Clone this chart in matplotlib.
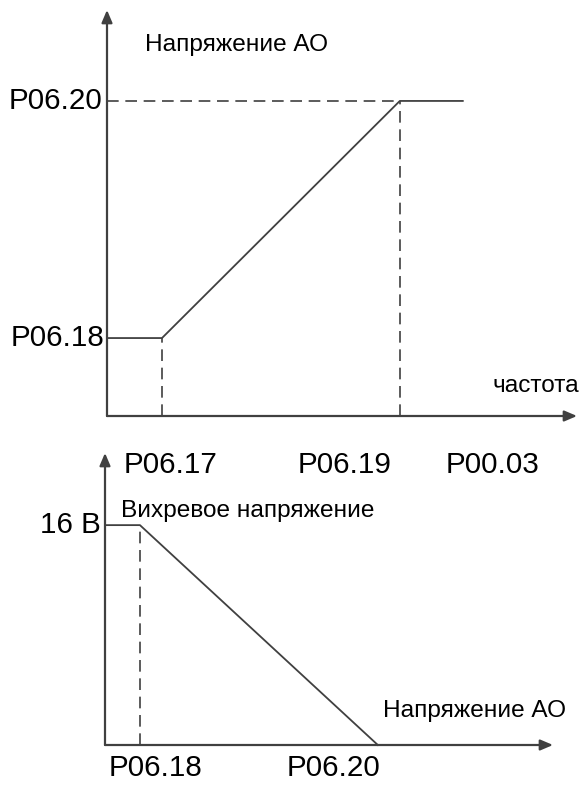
import matplotlib.pyplot as plt

plt.rcParams['font.family'] = ['Liberation Sans', 'DejaVu Sans']

LINE = '#404040'
TXT = '#000000'

# top chart: AO voltage vs frequency (schematic units, axis arrow tip = 10)
top_x = [0, 1.17, 6.23, 7.57]
top_y = [1.92, 1.92, 7.76, 7.76]
top_xticks = [1.35, 5.05, 8.2]
top_xlabels = ['P06.17', 'P06.19', 'P00.03']
top_ylabels = ['P06.18', 'P06.20']

# bottom chart: vortex voltage vs AO voltage
bot_x = [0, 0.78, 6.09]
bot_y = [7.53, 7.53, 0]
bot_xticks = [1.12, 5.09]
bot_xlabels = ['P06.18', 'P06.20']
bot_ylabel = '16 В'

W, H = 582, 785
fig = plt.figure(figsize=(5.82, 7.85), dpi=100)

TICK_FS = 21.3
LAB_FS = 17.6


def make_ax(x0, y0, xlen, ylen):
    # x0, y0 = origin in pixels from top-left, lengths to arrow tips
    ax = fig.add_axes([x0 / W, (H - y0) / H, xlen / W, ylen / H])
    ax.set_xlim(0, 10)
    ax.set_ylim(0, 10)
    ax.axis('off')
    arrow = dict(arrowstyle='-|>,head_length=0.75,head_width=0.32',
                 color=LINE, lw=1.6, shrinkA=0, shrinkB=0)
    ax.annotate('', xy=(10, 0), xytext=(0, 0), arrowprops=arrow,
                annotation_clip=False)
    ax.annotate('', xy=(0, 10), xytext=(0, 0), arrowprops=arrow,
                annotation_clip=False)
    return ax


# ---- top ----
ax1 = make_ax(107, 416, 470, 406)
ax1.plot(top_x, top_y, color=LINE, lw=1.3, clip_on=False)
ax1.plot([top_x[1], top_x[1]], [0, top_y[1]], color=LINE, lw=1.2,
         dashes=(7, 4), clip_on=False)
ax1.plot([top_x[2], top_x[2]], [0, top_y[2]], color=LINE, lw=1.2,
         dashes=(7, 4), clip_on=False)
ax1.plot([0, top_x[2]], [top_y[2], top_y[2]], color=LINE, lw=1.2,
         dashes=(7, 4), clip_on=False)
for xv, lab in zip(top_xticks, top_xlabels):
    ax1.text(xv, -1.2, lab, ha='center', va='center', fontsize=TICK_FS,
             color=TXT)
ax1.text(-0.05, top_y[0], top_ylabels[0], ha='right', va='center',
         fontsize=TICK_FS, color=TXT)
ax1.text(-0.1, top_y[2], top_ylabels[1], ha='right', va='center',
         fontsize=TICK_FS, color=TXT)
ax1.text(0.8, 9.15, 'Напряжение АО', ha='left', va='center', fontsize=LAB_FS,
         color=TXT)
ax1.text(10.05, 0.75, 'частота', ha='right', va='center', fontsize=LAB_FS,
         color=TXT)

# ---- bottom ----
ax2 = make_ax(105, 745, 448, 292)
ax2.plot(bot_x, bot_y, color=LINE, lw=1.3, clip_on=False)
ax2.plot([bot_x[1], bot_x[1]], [0, bot_y[1]], color=LINE, lw=1.2,
         dashes=(7, 4), clip_on=False)
for xv, lab in zip(bot_xticks, bot_xlabels):
    ax2.text(xv, -0.78, lab, ha='center', va='center', fontsize=TICK_FS,
             color=TXT)
ax2.text(-0.1, bot_y[0], bot_ylabel, ha='right', va='center',
         fontsize=TICK_FS, color=TXT)
ax2.text(0.35, 8.0, 'Вихревое напряжение', ha='left', va='center',
         fontsize=LAB_FS, color=TXT)
ax2.text(6.2, 1.15, 'Напряжение АО', ha='left', va='center', fontsize=LAB_FS,
         color=TXT)

fig.savefig('out.png', dpi=100)
